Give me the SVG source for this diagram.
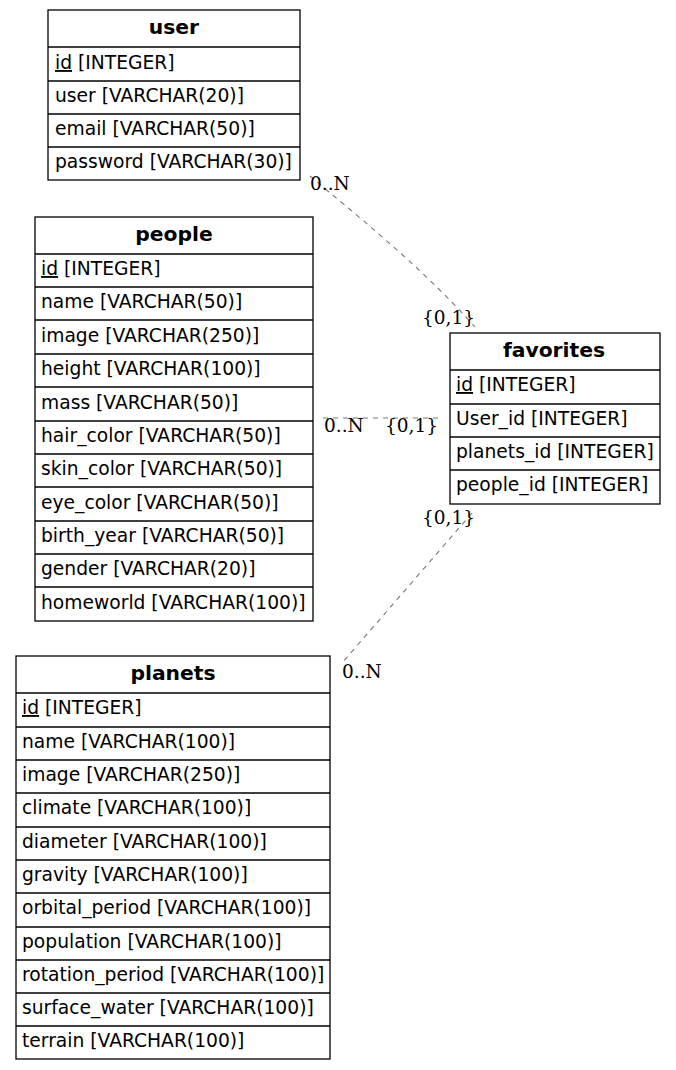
<svg xmlns="http://www.w3.org/2000/svg" width="676" height="1070" viewBox="0 0 676 1070">
<style>
.bg{fill:#fff}
.box{fill:#fff;stroke:#000;stroke-width:1.3}
.sep{stroke:#000;stroke-width:1.3}
.h{font-family:"DejaVu Sans",sans-serif;font-size:20.3px;font-weight:bold;text-anchor:middle;fill:#000}
.r{font-family:"DejaVu Sans",sans-serif;font-size:18.7px;fill:#000}
.lbl{font-family:"DejaVu Serif",serif;font-size:18.5px;fill:#000}
.edge{fill:none;stroke:#777;stroke-width:1.1;stroke-dasharray:5,5}
</style>
<rect class="bg" width="676" height="1070"/>
<g id="connectors">
<path class="edge" d="M310,176 C350,210 420,265 475,327"/>
<path class="edge" d="M323,418 L440,418"/>
<path class="edge" d="M472,513 L342,663"/>
<text class="lbl" x="310" y="190">0..N</text>
<text class="lbl" x="422" y="324">{0,1}</text>
<text class="lbl" x="324" y="432">0..N</text>
<text class="lbl" x="385" y="432">{0,1}</text>
<text class="lbl" x="422" y="524">{0,1}</text>
<text class="lbl" x="342" y="678">0..N</text>
</g>
<g id="user">
<rect class="box" x="48" y="10" width="252" height="170"/>
<line class="sep" x1="48" y1="47" x2="300" y2="47"/>
<line class="sep" x1="48" y1="81" x2="300" y2="81"/>
<line class="sep" x1="48" y1="114" x2="300" y2="114"/>
<line class="sep" x1="48" y1="147" x2="300" y2="147"/>
<text class="h" x="174" y="33.5">user</text>
<text class="r" x="55" y="69"><tspan text-decoration="underline">id</tspan> [INTEGER]</text>
<text class="r" x="55" y="102">user [VARCHAR(20)]</text>
<text class="r" x="55" y="135">email [VARCHAR(50)]</text>
<text class="r" x="55" y="168">password [VARCHAR(30)]</text>
</g>
<g id="people">
<rect class="box" x="35" y="217" width="278" height="404"/>
<line class="sep" x1="35" y1="254" x2="313" y2="254"/>
<line class="sep" x1="35" y1="287" x2="313" y2="287"/>
<line class="sep" x1="35" y1="320" x2="313" y2="320"/>
<line class="sep" x1="35" y1="354" x2="313" y2="354"/>
<line class="sep" x1="35" y1="387" x2="313" y2="387"/>
<line class="sep" x1="35" y1="421" x2="313" y2="421"/>
<line class="sep" x1="35" y1="454" x2="313" y2="454"/>
<line class="sep" x1="35" y1="487" x2="313" y2="487"/>
<line class="sep" x1="35" y1="521" x2="313" y2="521"/>
<line class="sep" x1="35" y1="554" x2="313" y2="554"/>
<line class="sep" x1="35" y1="587" x2="313" y2="587"/>
<text class="h" x="174" y="240.5">people</text>
<text class="r" x="41" y="275"><tspan text-decoration="underline">id</tspan> [INTEGER]</text>
<text class="r" x="41" y="308">name [VARCHAR(50)]</text>
<text class="r" x="41" y="342">image [VARCHAR(250)]</text>
<text class="r" x="41" y="375">height [VARCHAR(100)]</text>
<text class="r" x="41" y="409">mass [VARCHAR(50)]</text>
<text class="r" x="41" y="442">hair_color [VARCHAR(50)]</text>
<text class="r" x="41" y="475">skin_color [VARCHAR(50)]</text>
<text class="r" x="41" y="509">eye_color [VARCHAR(50)]</text>
<text class="r" x="41" y="542">birth_year [VARCHAR(50)]</text>
<text class="r" x="41" y="575">gender [VARCHAR(20)]</text>
<text class="r" x="41" y="609">homeworld [VARCHAR(100)]</text>
</g>
<g id="favorites">
<rect class="box" x="450" y="333" width="210" height="171"/>
<line class="sep" x1="450" y1="370" x2="660" y2="370"/>
<line class="sep" x1="450" y1="404" x2="660" y2="404"/>
<line class="sep" x1="450" y1="437" x2="660" y2="437"/>
<line class="sep" x1="450" y1="470" x2="660" y2="470"/>
<text class="h" x="554" y="356.5">favorites</text>
<text class="r" x="456" y="391"><tspan text-decoration="underline">id</tspan> [INTEGER]</text>
<text class="r" x="456" y="425">User_id [INTEGER]</text>
<text class="r" x="456" y="458">planets_id [INTEGER]</text>
<text class="r" x="456" y="491">people_id [INTEGER]</text>
</g>
<g id="planets">
<rect class="box" x="16" y="656" width="314" height="403"/>
<line class="sep" x1="16" y1="693" x2="330" y2="693"/>
<line class="sep" x1="16" y1="727" x2="330" y2="727"/>
<line class="sep" x1="16" y1="760" x2="330" y2="760"/>
<line class="sep" x1="16" y1="793" x2="330" y2="793"/>
<line class="sep" x1="16" y1="827" x2="330" y2="827"/>
<line class="sep" x1="16" y1="860" x2="330" y2="860"/>
<line class="sep" x1="16" y1="893" x2="330" y2="893"/>
<line class="sep" x1="16" y1="927" x2="330" y2="927"/>
<line class="sep" x1="16" y1="960" x2="330" y2="960"/>
<line class="sep" x1="16" y1="993" x2="330" y2="993"/>
<line class="sep" x1="16" y1="1026" x2="330" y2="1026"/>
<text class="h" x="173" y="679.5">planets</text>
<text class="r" x="22" y="714"><tspan text-decoration="underline">id</tspan> [INTEGER]</text>
<text class="r" x="22" y="748">name [VARCHAR(100)]</text>
<text class="r" x="22" y="781">image [VARCHAR(250)]</text>
<text class="r" x="22" y="814">climate [VARCHAR(100)]</text>
<text class="r" x="22" y="848">diameter [VARCHAR(100)]</text>
<text class="r" x="22" y="881">gravity [VARCHAR(100)]</text>
<text class="r" x="22" y="914">orbital_period [VARCHAR(100)]</text>
<text class="r" x="22" y="948">population [VARCHAR(100)]</text>
<text class="r" x="22" y="981">rotation_period [VARCHAR(100)]</text>
<text class="r" x="22" y="1014">surface_water [VARCHAR(100)]</text>
<text class="r" x="22" y="1047">terrain [VARCHAR(100)]</text>
</g>
</svg>
